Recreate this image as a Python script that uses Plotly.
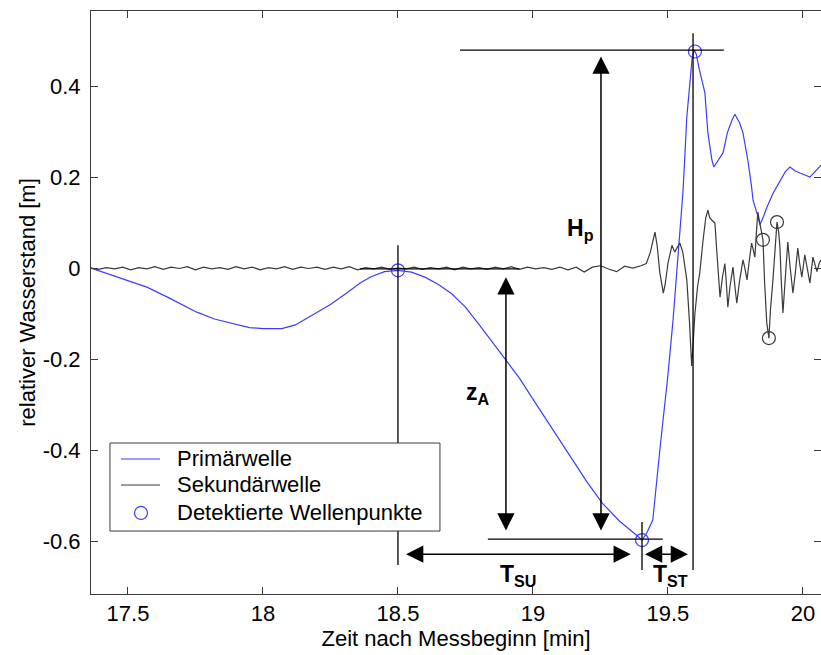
import plotly.graph_objects as go

# ---- data ----
prim_x = [17.363, 17.45, 17.50, 17.57, 17.65, 17.70, 17.755, 17.82, 17.88, 17.95, 18.00, 18.07,
          18.12, 18.185, 18.25, 18.31, 18.36, 18.40, 18.45, 18.50, 18.55, 18.60, 18.65, 18.70,
          18.75, 18.80, 18.85, 18.90, 18.95, 19.00, 19.05, 19.10, 19.15, 19.20, 19.256, 19.32,
          19.385, 19.404, 19.422, 19.444, 19.47, 19.50, 19.519, 19.544, 19.556, 19.57, 19.589,
          19.597, 19.605, 19.615, 19.637, 19.648, 19.663, 19.67, 19.685, 19.704, 19.72, 19.737,
          19.748, 19.765, 19.778, 19.796, 19.81, 19.815, 19.83, 19.841, 19.855, 19.867, 19.89,
          19.915, 19.935, 19.952, 19.97, 19.989, 20.01, 20.026, 20.045, 20.067]
prim_y = [0.0, -0.017, -0.027, -0.042, -0.065, -0.081, -0.097, -0.112, -0.121, -0.131, -0.133, -0.133,
          -0.125, -0.103, -0.080, -0.055, -0.033, -0.019, -0.008, -0.005, -0.009, -0.020, -0.036, -0.057,
          -0.086, -0.124, -0.164, -0.203, -0.242, -0.288, -0.334, -0.380, -0.425, -0.470, -0.516, -0.556,
          -0.588, -0.598, -0.582, -0.554, -0.400, -0.235, -0.114, 0.084, 0.170, 0.332, 0.457,
          0.480, 0.470, 0.440, 0.385, 0.297, 0.237, 0.222, 0.235, 0.253, 0.297, 0.325,
          0.338, 0.320, 0.297, 0.237, 0.178, 0.150, 0.120, 0.095, 0.115, 0.134, 0.165,
          0.193, 0.212, 0.222, 0.214, 0.209, 0.204, 0.200, 0.212, 0.226]

sek_x = [17.363, 17.39, 17.42, 17.45, 17.48, 17.51, 17.54, 17.57, 17.60, 17.63,
         17.66, 17.69, 17.72, 17.75, 17.78, 17.81, 17.84, 17.87, 17.90, 17.93,
         17.96, 17.99, 18.02, 18.05, 18.08, 18.11, 18.14, 18.17, 18.20, 18.23,
         18.26, 18.29, 18.32, 18.35, 18.38, 18.41, 18.44, 18.47, 18.50, 18.53,
         18.56, 18.59, 18.62, 18.65, 18.68, 18.71, 18.74, 18.77, 18.80, 18.83,
         18.86, 18.89, 18.92, 18.95, 18.98, 19.01, 19.04, 19.07, 19.10, 19.13,
         19.16, 19.19, 19.22, 19.25, 19.28, 19.31, 19.34, 19.37, 19.40, 19.42,
         19.435, 19.445, 19.452, 19.46, 19.47, 19.483, 19.49, 19.50, 19.515, 19.525,
         19.535, 19.544, 19.555, 19.57, 19.58, 19.588, 19.595, 19.60, 19.61, 19.618,
         19.63, 19.64, 19.648, 19.655, 19.663, 19.674, 19.683, 19.693, 19.702, 19.711,
         19.716, 19.722, 19.73, 19.741, 19.748, 19.755, 19.765, 19.778, 19.785, 19.793,
         19.80, 19.81, 19.816, 19.822, 19.828, 19.833, 19.84, 19.846, 19.852, 19.858,
         19.866, 19.874, 19.88, 19.889, 19.896, 19.904, 19.91, 19.915, 19.92, 19.926,
         19.935, 19.944, 19.953, 19.963, 19.972, 19.981, 19.988, 19.996, 20.007, 20.016,
         20.026, 20.037, 20.045, 20.052, 20.06, 20.067]
sek_y = [0.0, -0.003, 0.001, -0.002, 0.002, -0.004, 0.001, -0.002, 0.003, -0.003,
         0.002, -0.001, 0.003, -0.004, 0.002, -0.002, 0.001, -0.003, 0.003, -0.002,
         0.002, -0.004, 0.001, -0.002, 0.003, -0.003, 0.002, -0.001, 0.002, -0.003,
         0.002, -0.002, 0.003, -0.004, 0.001, -0.002, 0.002, -0.003, 0.000, -0.002,
         0.002, -0.003, 0.001, -0.002, 0.002, -0.004, 0.002, -0.002, 0.001, -0.003,
         0.002, -0.002, 0.003, -0.003, 0.002, -0.002, 0.001, -0.003, 0.002, -0.004,
         0.002, -0.009, 0.002, 0.005, -0.002, -0.008, 0.004, 0.000, 0.005, 0.010,
         0.035, 0.060, 0.079, 0.050, -0.010, -0.055, -0.035, 0.010, 0.050, 0.035,
         0.045, 0.055, 0.035, -0.026, -0.120, -0.215, -0.150, -0.100, -0.040, -0.010,
         0.060, 0.110, 0.127, 0.110, 0.105, 0.099, 0.020, -0.064, -0.020, 0.010,
         -0.030, -0.086, -0.040, 0.002, -0.040, -0.077, -0.030, 0.018, 0.000, -0.026,
         0.010, 0.055, 0.040, 0.024, 0.080, 0.123, 0.100, 0.080, 0.062, -0.030,
         -0.120, -0.154, -0.090, -0.026, 0.040, 0.101, 0.080, 0.046, -0.030, -0.099,
         -0.020, 0.057, 0.000, -0.055, -0.010, 0.044, 0.010, -0.020, 0.029, 0.000,
         -0.033, 0.024, 0.005, -0.008, 0.010, 0.018]

punkte_prim_x = [18.50, 19.404, 19.600]
punkte_prim_y = [-0.005, -0.598, 0.476]
punkte_sek_x = [19.852, 19.874, 19.904]
punkte_sek_y = [0.062, -0.154, 0.101]

x_ticks = [17.5, 18, 18.5, 19, 19.5, 20]
x_ticklabels = ["17.5", "18", "18.5", "19", "19.5", "20"]
y_ticks = [-0.6, -0.4, -0.2, 0, 0.2, 0.4]
y_ticklabels = ["-0.6", "-0.4", "-0.2", "0", "0.2", "0.4"]

legend_names = ["Primärwelle", "Sekundärwelle", "Detektierte Wellenpunkte"]

FONT = "Liberation Sans, Arial, sans-serif"
BLUE = "#3c3cff"
DARK = "#3a3a3a"

fig = go.Figure()
fig.add_trace(go.Scatter(x=prim_x, y=prim_y, mode="lines", name=legend_names[0],
                         line=dict(color=BLUE, width=1.2), showlegend=False))
fig.add_trace(go.Scatter(x=sek_x, y=sek_y, mode="lines", name=legend_names[1],
                         line=dict(color=DARK, width=1.2), showlegend=False))
fig.add_trace(go.Scatter(x=punkte_prim_x, y=punkte_prim_y, mode="markers",
                         name=legend_names[2], showlegend=False,
                         marker=dict(symbol="circle-open", size=13, color=BLUE,
                                     line=dict(width=1.2, color=BLUE))))
fig.add_trace(go.Scatter(x=punkte_sek_x, y=punkte_sek_y, mode="markers", showlegend=False,
                         name=legend_names[2],
                         marker=dict(symbol="circle-open", size=13, color=DARK,
                                     line=dict(width=1.2, color=DARK))))

# helper lines
line_style = dict(color="black", width=1.3)
shapes = [
    dict(type="line", x0=18.73, x1=19.707, y0=0.479, y1=0.479),
    dict(type="line", x0=19.593, x1=19.593, y0=-0.664, y1=0.516),
    dict(type="line", x0=18.50, x1=18.50, y0=-0.653, y1=0.050),
    dict(type="line", x0=19.404, x1=19.404, y0=-0.664, y1=-0.558),
    dict(type="line", x0=18.833, x1=19.481, y0=-0.596, y1=-0.596),
    dict(type="line", x0=18.36, x1=18.95, y0=-0.002, y1=-0.002),
]
for s in shapes:
    s.update(xref="x", yref="y", line=line_style)

# legend box (drawn with paper-referenced shapes/annotations)
leg_y = [0.2316, 0.187, 0.139]
shapes += [
    dict(type="rect", xref="paper", yref="paper", x0=0.026, x1=0.478, y0=0.108, y1=0.259,
         line=dict(color=DARK, width=1), fillcolor="white", layer="above"),
    dict(type="line", xref="paper", yref="paper", x0=0.041, x1=0.0945, y0=leg_y[0], y1=leg_y[0],
         line=dict(color=BLUE, width=1.2)),
    dict(type="line", xref="paper", yref="paper", x0=0.041, x1=0.0945, y0=leg_y[1], y1=leg_y[1],
         line=dict(color=DARK, width=1.2)),
    dict(type="circle", xref="paper", yref="paper", xsizemode="pixel", ysizemode="pixel",
         xanchor=0.0685, yanchor=leg_y[2], x0=-6.5, x1=6.5, y0=-6.5, y1=6.5,
         line=dict(color=BLUE, width=1.2)),
]
fig.update_layout(shapes=shapes)

arrow_common = dict(xref="x", yref="y", axref="x", ayref="y", text="", showarrow=True,
                    arrowhead=2, startarrowhead=2, arrowside="end+start",
                    arrowsize=2.3, startarrowsize=2.3, arrowwidth=1.5,
                    arrowcolor="black", standoff=0, startstandoff=0)
arrows = [
    dict(x=18.90, y=-0.020, ax=18.90, ay=-0.580),     # z_A
    dict(x=19.252, y=0.465, ax=19.252, ay=-0.580),    # H_p
    dict(x=18.53, y=-0.629, ax=19.368, ay=-0.629),    # T_SU
    dict(x=19.415, y=-0.629, ax=19.580, ay=-0.629),   # T_ST
]
annotations = [dict(a, **arrow_common) for a in arrows]

lab_font = dict(family=FONT, size=23, color="black")
labels = [
    dict(x=19.235, y=0.085, text="<b>H<sub>p</sub></b>", xanchor="right", yanchor="middle"),
    dict(x=18.85, y=-0.275, text="<b>z<sub>A</sub></b>", xanchor="right", yanchor="middle"),
    dict(x=18.944, y=-0.675, text="<b>T<sub>SU</sub></b>", xanchor="center", yanchor="middle"),
    dict(x=19.51, y=-0.675, text="<b>T<sub>ST</sub></b>", xanchor="center", yanchor="middle"),
]
for a in labels:
    a.update(xref="x", yref="y", showarrow=False, font=lab_font)
annotations += labels

for name, yy in zip(legend_names, leg_y):
    annotations.append(dict(xref="paper", yref="paper", x=0.115, y=yy, text=name,
                            xanchor="left", yanchor="middle", showarrow=False,
                            font=dict(family=FONT, size=22, color="black")))
fig.update_layout(annotations=annotations)

axis_common = dict(showline=True, linecolor=DARK, linewidth=1, mirror="ticks",
                   ticks="inside", ticklen=7, tickcolor=DARK, showgrid=False,
                   zeroline=False, automargin=False,
                   tickfont=dict(family=FONT, size=22, color="black"))
fig.update_xaxes(range=[17.363, 20.067], tickvals=x_ticks, ticktext=x_ticklabels,
                 title=dict(text="Zeit nach Messbeginn [min]", standoff=2,
                            font=dict(family=FONT, size=22, color="black")),
                 **axis_common)
fig.update_yaxes(range=[-0.7165, 0.565], tickvals=y_ticks, ticktext=y_ticklabels,
                 ticklabelstandoff=5,
                 title=dict(text="relativer Wasserstand [m]", standoff=0,
                            font=dict(family=FONT, size=22, color="black")),
                 **axis_common)

fig.update_layout(
    width=821, height=655,
    margin=dict(l=91, r=0, t=11, b=61, autoexpand=False),
    paper_bgcolor="white", plot_bgcolor="white",
    font=dict(family=FONT, size=22, color="black"),
    showlegend=False,
)

fig.write_html("out.html", config={"displayModeBar": False},
               post_script="document.body.style.margin='0';document.body.style.overflow='hidden';")
